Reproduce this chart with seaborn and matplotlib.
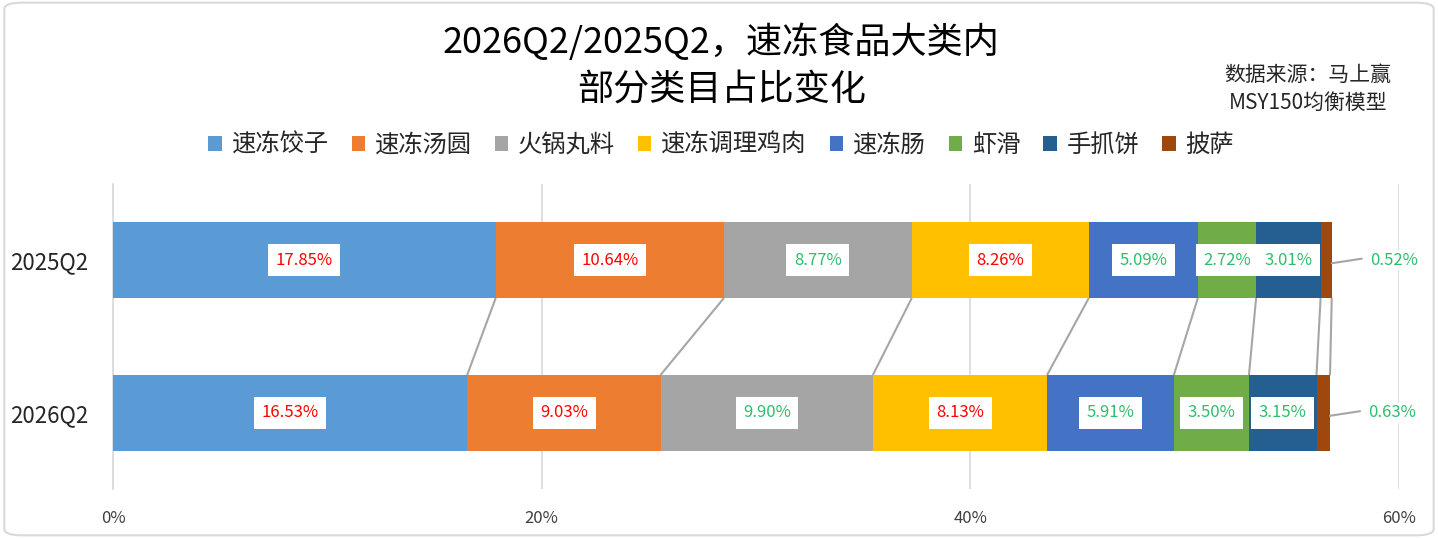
import numpy as np
import pandas as pd
import matplotlib
matplotlib.use("Agg")
import matplotlib.pyplot as plt
from matplotlib.patches import Patch, FancyBboxPatch
from matplotlib.ticker import FuncFormatter
import seaborn as sns

# --- data ---
periods = ["2025Q2", "2026Q2"]
categories = ["速冻饺子", "速冻汤圆", "火锅丸料", "速冻调理鸡肉", "速冻肠", "虾滑", "手抓饼", "披萨"]
share_2025 = [17.85, 10.64, 8.77, 8.26, 5.09, 2.72, 3.01, 0.52]
share_2026 = [16.53, 9.03, 9.90, 8.13, 5.91, 3.50, 3.15, 0.63]

colors = ["#5B9BD5", "#ED7D31", "#A5A5A5", "#FFC000", "#4472C4", "#70AD47", "#255E91", "#9E480E"]
RED = "#FF0000"
GREEN = "#2DBE6C"

sns.set_theme(style="white")
plt.rcParams["font.family"] = ["Noto Sans CJK SC", "DejaVu Sans"]
plt.rcParams["axes.unicode_minus"] = False

vals = np.array([share_2025, share_2026])
cum = vals.cumsum(axis=1)
left = cum - vals

fig = plt.figure(figsize=(14.38, 5.38), dpi=100)
ax = fig.add_axes([0.0786, 0.0911, 0.8943, 0.567])

# stacked bars: draw cumulative totals from longest to shortest
for i in reversed(range(len(categories))):
    df = pd.DataFrame({"period": periods, "value": cum[:, i]})
    sns.barplot(data=df, x="value", y="period", orient="h", color=colors[i],
                saturation=1, width=0.5, linewidth=0, ax=ax, zorder=3)

ax.set_xlim(0, 60)
ax.set_ylim(1.5, -0.5)
ax.set_xticks([0, 20, 40, 60])
ax.xaxis.set_major_formatter(FuncFormatter(lambda v, p: f"{v:.0f}%"))
ax.grid(axis="x", color="#D9D9D9", linewidth=1.2, zorder=0)
ax.grid(axis="y", visible=False)
for s in ["top", "right", "bottom"]:
    ax.spines[s].set_visible(False)
ax.spines["left"].set_color("#D9D9D9")
ax.spines["left"].set_linewidth(1.2)
ax.tick_params(axis="x", length=0, pad=15, labelsize=12, labelcolor="#404040")
ax.tick_params(axis="y", length=0, pad=18, labelsize=16, labelcolor="#262626")
ax.set_xlabel("")
ax.set_ylabel("")

# connector lines between the two bars
for i in range(len(categories)):
    ax.plot([cum[0, i], cum[1, i]], [0.25, 0.75], color="#A6A6A6", lw=1.5, zorder=2)

# value labels (red = share fell, green = share rose)
for r in range(2):
    for i in range(len(categories)):
        c = RED if vals[1, i] < vals[0, i] else GREEN
        txt = f"{vals[r, i]:.2f}%"
        if i == len(categories) - 1:
            # smallest slice: label outside with a short leader line
            ax.plot([cum[r, i], cum[r, i] + 1.4], [r + 0.02, r - 0.01],
                    color="#A6A6A6", lw=1.5, zorder=4, clip_on=False)
            ax.text(cum[r, i] + 1.8, r, txt, color=c, fontsize=12,
                    ha="left", va="center", zorder=5, clip_on=False,
                    bbox=dict(facecolor="white", edgecolor="none", pad=1))
        else:
            ax.text(left[r, i] + vals[r, i] / 2, r, txt, color=c,
                    fontsize=12, ha="center", va="center", zorder=5,
                    bbox=dict(boxstyle="square,pad=0.45", facecolor="white", edgecolor="none"))

# title and source
fig.text(0.5015, 0.922, "2026Q2/2025Q2，速冻食品大类内", ha="center", va="center",
         fontsize=26, color="black")
fig.text(0.5015, 0.831, "部分类目占比变化", ha="center", va="center",
         fontsize=26, color="black")
fig.text(0.9096, 0.8606, "数据来源：马上赢", ha="center", va="center", fontsize=15, color="#262626")
fig.text(0.9096, 0.8086, "MSY150均衡模型", ha="center", va="center", fontsize=15, color="#262626")

handles = [Patch(facecolor=c, edgecolor="none") for c in colors]
fig.legend(handles, categories, loc="center", bbox_to_anchor=(0.5015, 0.7305), ncol=8,
           frameon=False, fontsize=17.5, handlelength=0.55, handleheight=0.55,
           handletextpad=0.4, columnspacing=0.95, labelcolor="#262626")

# rounded chart border
fig.patches.append(FancyBboxPatch((0.003, 0.005), 0.994, 0.99,
                                  boxstyle="round,pad=0,rounding_size=0.012",
                                  transform=fig.transFigure, facecolor="none",
                                  edgecolor="#D9D9D9", linewidth=1.5))

fig.savefig("out.png", dpi=100)
